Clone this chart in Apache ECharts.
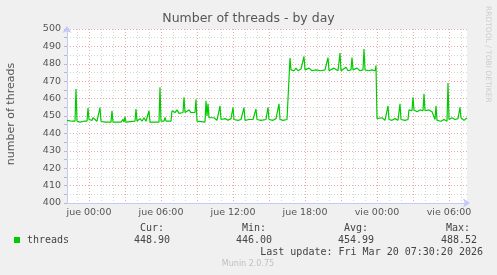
<!DOCTYPE html>
<html>
<head>
<meta charset="utf-8">
<script src="https://cdn.jsdelivr.net/npm/echarts@6/dist/echarts.min.js"></script>
<style>
html,body{margin:0;padding:0;background:#f0f0f0;}
#chart{width:497px;height:275px;}
</style>
</head>
<body>
<div id="chart"></div>
<script>
// time in minutes relative to "jue 00:00"
const minutes = [-110,-100,-85,-70,-65,-60,-45,-25,-10,-5,0,10,15,20,30,40,50,55,60,80,110,115,120,160,170,175,180,185,230,235,240,255,265,275,285,295,300,305,350,355,360,375,380,385,410,415,430,440,450,460,470,475,480,490,500,510,520,530,535,540,580,585,590,595,600,610,625,640,650,655,660,680,695,710,715,720,725,745,760,770,775,780,800,820,830,835,840,860,885,890,895,900,920,935,945,950,955,970,990,1000,1005,1010,1025,1035,1045,1060,1070,1075,1080,1100,1115,1135,1160,1180,1190,1195,1200,1225,1245,1250,1255,1260,1285,1295,1305,1310,1315,1320,1340,1355,1370,1375,1380,1400,1415,1430,1435,1440,1450,1465,1480,1490,1495,1500,1515,1530,1545,1550,1555,1560,1580,1595,1600,1615,1620,1625,1640,1655,1670,1675,1680,1700,1715,1725,1730,1735,1740,1760,1775,1790,1795,1800,1815,1830,1845,1850,1855,1860,1875,1890];
const threads = [447.5,447,447,447,465.5,447,446.5,447,447,454.5,448,449,447.5,449,448,447,447,454.8,447,446.5,446.5,453,446.5,446.5,448,446.5,449.5,446.5,447,454,447,448.5,447,449,447,447,453,446.5,446.5,466.5,447,447,449.2,447,447,453,452,453.5,451.5,452.5,452,460.8,452,452,453.5,452,452.5,452,459.6,447,446.5,458.7,450,457,449,448,449,447.5,448,455.8,448,448.5,447.5,448.5,448,454.8,448,447.5,448,448,454.8,447.5,448,448,448,454,448,447.5,448,448,455,448,447.5,448.5,448,457,448,447.5,448,448,483.3,476.5,476,477.5,476,477,476,484.2,476.5,477.5,476,476.5,476,476.5,476.5,483.6,476,477.5,476,476,486.2,476,478,476,477,476.5,483.6,476.5,477.5,476,476.5,488.52,476.5,476,476.5,476,479,448.5,447.5,449,447.5,448,455.8,448,447.5,448.5,447.5,447.5,457,448,447.5,448,453.5,453,460.8,453.5,452.5,453.5,453,462.7,453,453.5,452.5,453,448,455.8,447.5,447,448,447,468.9,448,449,448,448.5,448,455,449,447.5,448.9];
const hourTicks = [-60,0,60,120,180,240,300,360,420,480,540,600,660,720,780,840,900,960,1020,1080,1140,1200,1260,1320,1380,1440,1500,1560,1620,1680,1740,1800,1860];
const labelTicks = [0,360,720,1080,1440,1800];
const dayNames = ['jue','vie'];
const stats = {cur:'448.90', min:'446.00', avg:'454.99', max:'488.52'};
const seriesName = 'threads';
const titleText = 'Number of threads - by day';
const yName = 'number of threads';
const lastUpdate = 'Last update: Fri Mar 20 07:30:20 2026';

const data = minutes.map((m,i)=>[m, threads[i]]);
const RED = '#eaa8a8', GRAY = '#d6d6d6', AXIS = '#c4c8f8', TXT = '#555';
const mono = '"DejaVu Sans Mono", monospace';

const chart = echarts.init(document.getElementById('chart'), null, {renderer:'canvas'});
chart.setOption({
  backgroundColor:'#f0f0f0',
  animation:false,
  grid:{left:67,right:30,top:29,bottom:72,show:true,backgroundColor:'#fff',borderWidth:0},
  xAxis:{
    type:'value', min:-110, max:1890,
    axisLine:{show:true,onZero:false,lineStyle:{color:AXIS,width:1},symbol:['none','arrow'],symbolSize:[7,7],symbolOffset:[0,3]},
    axisTick:{show:false,customValues:hourTicks},
    axisLabel:{customValues:labelTicks,margin:5,fontSize:9.5,color:TXT,fontFamily:'DejaVu Sans',
      formatter:v=>{const d=Math.floor(v/1440);const h=Math.round((v-d*1440)/60);return dayNames[d]+' '+String(h).padStart(2,'0')+':00';}},
    splitLine:{show:true,lineStyle:{color:[GRAY,RED,GRAY],type:[1,2],width:1}}
  },
  yAxis:{
    type:'value', min:400, max:500, interval:5,
    axisLine:{show:true,onZero:false,lineStyle:{color:AXIS,width:1},symbol:['none','arrow'],symbolSize:[7,7],symbolOffset:[0,3]},
    axisTick:{show:true,length:3,lineStyle:{color:'#bbb'}},
    axisLabel:{margin:6,fontSize:9.5,color:TXT,fontFamily:'DejaVu Sans',formatter:v=>(v%10===0?String(v):'')},
    splitLine:{show:true,lineStyle:{color:[RED,GRAY],type:[1,2],width:1}}
  },
  series:[{
    type:'line', name:seriesName, data:data, symbol:'none', showSymbol:false,
    lineStyle:{color:'#00cc00',width:1.2}, itemStyle:{color:'#00cc00'}, z:5
  }],
  graphic:[
    {type:'text',left:'center',top:12,style:{text:titleText,font:'12.5px "DejaVu Sans"',fill:TXT}},
    {type:'text',x:11,y:114,rotation:Math.PI/2,style:{text:yName,font:'11px "DejaVu Sans"',fill:TXT,align:'center',verticalAlign:'middle'}},
    {type:'text',x:488,y:6,rotation:-Math.PI/2,style:{text:'RRDTOOL / TOBI OETIKER',font:'7.5px "DejaVu Sans"',fill:'#cdcdcd',align:'left',verticalAlign:'middle'}},
    {type:'rect',shape:{x:14,y:237,width:6,height:6},style:{fill:'#00cc00'}},
    {type:'text',x:27,y:240,style:{text:seriesName,font:'10px '+mono,fill:'#444',verticalAlign:'middle'}},
    {type:'text',x:164,y:228,style:{text:'Cur:',font:'10px '+mono,fill:'#444',align:'right',verticalAlign:'middle'}},
    {type:'text',x:266,y:228,style:{text:'Min:',font:'10px '+mono,fill:'#444',align:'right',verticalAlign:'middle'}},
    {type:'text',x:368,y:228,style:{text:'Avg:',font:'10px '+mono,fill:'#444',align:'right',verticalAlign:'middle'}},
    {type:'text',x:470,y:228,style:{text:'Max:',font:'10px '+mono,fill:'#444',align:'right',verticalAlign:'middle'}},
    {type:'text',x:170,y:240,style:{text:stats.cur,font:'10px '+mono,fill:'#444',align:'right',verticalAlign:'middle'}},
    {type:'text',x:272,y:240,style:{text:stats.min,font:'10px '+mono,fill:'#444',align:'right',verticalAlign:'middle'}},
    {type:'text',x:374,y:240,style:{text:stats.avg,font:'10px '+mono,fill:'#444',align:'right',verticalAlign:'middle'}},
    {type:'text',x:477,y:240,style:{text:stats.max,font:'10px '+mono,fill:'#444',align:'right',verticalAlign:'middle'}},
    {type:'text',x:483,y:252,style:{text:lastUpdate,font:'10px '+mono,fill:'#444',align:'right',verticalAlign:'middle'}},
    {type:'text',x:248,y:264,style:{text:'Munin 2.0.75',font:'8px "DejaVu Sans"',fill:'#c0c0c0',align:'center',verticalAlign:'middle'}}
  ]
});
</script>
</body>
</html>
